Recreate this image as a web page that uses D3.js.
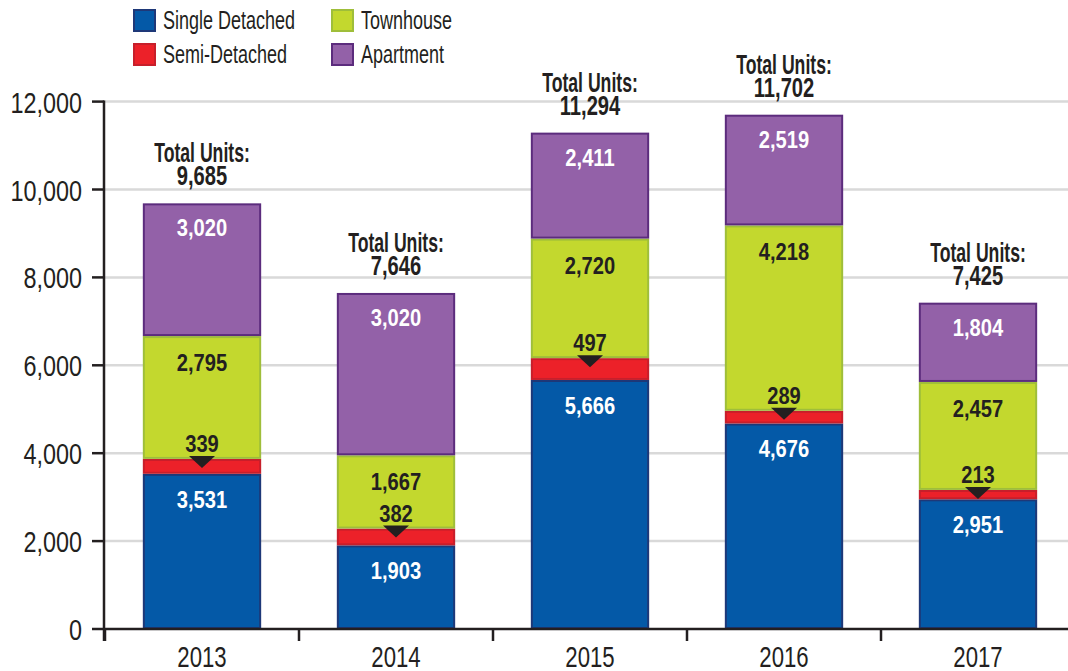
<!DOCTYPE html>
<html>
<head>
<meta charset="utf-8">
<script src="https://cdn.jsdelivr.net/npm/d3@7"></script>
<style>
  body { margin: 0; background: #fff; }
  svg text { font-family: "Liberation Sans", Arial, sans-serif; fill: #231f20; }
</style>
</head>
<body>
<div id="plot"></div>
<script>
// data
const years = ["2013", "2014", "2015", "2016", "2017"];
const singleDetached = [3531, 1903, 5666, 4676, 2951];
const semiDetached = [339, 382, 497, 289, 213];
const townhouse = [2795, 1667, 2720, 4218, 2457];
const apartment = [3020, 3694, 2411, 2519, 1804];
// the printed apartment label for 2014 does not match its bar
const apartmentLabels = ["3,020", "3,020", "2,411", "2,519", "1,804"];
const totals = [9685, 7646, 11294, 11702, 7425];
const yTicks = [0, 2000, 4000, 6000, 8000, 10000, 12000];

const keys = ["single", "semi", "town", "apt"];
const names = { single: "Single Detached", semi: "Semi-Detached", town: "Townhouse", apt: "Apartment" };
const fills = { single: "#0459a7", semi: "#ec2129", town: "#c3d82e", apt: "#9361a8" };
const strokes = { single: "#1e3878", semi: "#c71f2b", town: "#9fbe3a", apt: "#5c2c7d" };

const rows = years.map((y, i) => ({
  year: y, single: singleDetached[i], semi: semiDetached[i],
  town: townhouse[i], apt: apartment[i], total: totals[i], aptLabel: apartmentLabels[i]
}));

const width = 1068, height = 671;
const svg = d3.select("#plot").append("svg")
  .attr("width", width).attr("height", height);

const x = d3.scaleBand().domain(years).range([105, 1075])
  .paddingInner(0.39).paddingOuter(0.195);
const y = d3.scaleLinear().domain([0, 12000]).range([629, 101.6]);
const fmt = d3.format(",");

// narrow text: no condensed face installed, so squeeze horizontally
const at = (px, py, s) => `translate(${px},${py}) scale(${s},1)`;

// grid
svg.append("g").selectAll("line").data(yTicks.slice(1)).enter().append("line")
  .attr("x1", 104).attr("x2", width)
  .attr("y1", d => y(d)).attr("y2", d => y(d))
  .attr("stroke", "#d9d9d9").attr("stroke-width", 2.5);

// bars
const series = d3.stack().keys(keys)(rows);
const layer = svg.selectAll(".serie").data(series).enter().append("g")
  .attr("class", "serie");
layer.selectAll("rect").data(d => d.map(v => Object.assign(v, { key: d.key })))
  .enter().append("rect")
  .attr("x", d => x(d.data.year) + 1)
  .attr("y", d => y(d[1]) + 1)
  .attr("width", x.bandwidth() - 2)
  .attr("height", d => y(d[0]) - y(d[1]) - 2)
  .attr("fill", d => fills[d.key])
  .attr("stroke", d => strokes[d.key])
  .attr("stroke-width", 2);

// y axis
svg.append("g").selectAll("line").data(yTicks).enter().append("line")
  .attr("x1", 92).attr("x2", 104)
  .attr("y1", d => y(d)).attr("y2", d => y(d))
  .attr("stroke", "#231f20").attr("stroke-width", 2.5);
svg.append("g").selectAll("text").data(yTicks).enter().append("text")
  .attr("transform", d => at(82, y(d) + 11, 0.78))
  .attr("text-anchor", "end").style("font-size", "30px")
  .text(fmt);
svg.append("line").attr("x1", 104).attr("x2", 104).attr("y1", y(12000) - 1).attr("y2", 641)
  .attr("stroke", "#231f20").attr("stroke-width", 2.5);

// x axis
svg.append("line").attr("x1", 104).attr("x2", width).attr("y1", 629).attr("y2", 629)
  .attr("stroke", "#231f20").attr("stroke-width", 2.5);
const step = x.step();
svg.append("g").selectAll("line").data(years).enter().append("line")
  .attr("x1", d => x(d) - (step - x.bandwidth()) / 2)
  .attr("x2", d => x(d) - (step - x.bandwidth()) / 2)
  .attr("y1", 629).attr("y2", 641)
  .attr("stroke", "#231f20").attr("stroke-width", 2.5);
svg.append("g").selectAll("text").data(years).enter().append("text")
  .attr("transform", d => at(x(d) + x.bandwidth() / 2, 667, 0.74))
  .attr("text-anchor", "middle").style("font-size", "30px")
  .text(d => d);

// segment labels
const cx = d => x(d.year) + x.bandwidth() / 2;
const lab = svg.append("g").style("font-weight", "bold").style("font-size", "24px")
  .attr("text-anchor", "middle");
const ls = 0.84;

lab.selectAll(".lsingle").data(rows).enter().append("text")
  .attr("transform", d => at(cx(d), y(d.single) + 34, ls))
  .style("fill", "#fff").text(d => fmt(d.single));
lab.selectAll(".ltown").data(rows).enter().append("text")
  .attr("transform", d => at(cx(d), y(d.single + d.semi + d.town) + 35, ls))
  .text(d => fmt(d.town));
lab.selectAll(".lapt").data(rows).enter().append("text")
  .attr("transform", d => at(cx(d), y(d.total) + 33, ls))
  .style("fill", "#fff").text(d => d.aptLabel);
lab.selectAll(".lsemi").data(rows).enter().append("text")
  .attr("transform", d => at(cx(d), y(d.single + d.semi) - 7, ls))
  .text(d => fmt(d.semi));
svg.append("g").selectAll("path").data(rows).enter().append("path")
  .attr("d", d => {
    const c = cx(d), t = y(d.single + d.semi) - 3;
    return `M${c - 13},${t}L${c + 13},${t}L${c},${t + 12}Z`;
  })
  .attr("fill", "#231f20");

// totals
const tot = svg.append("g").style("font-weight", "bold").style("font-size", "28px")
  .attr("text-anchor", "middle");
tot.selectAll(".t1").data(rows).enter().append("text")
  .attr("transform", d => at(cx(d), y(d.total) - 41, 0.63)).text("Total Units:");
tot.selectAll(".t2").data(rows).enter().append("text")
  .attr("transform", d => at(cx(d), y(d.total) - 18, 0.72)).text(d => fmt(d.total));

// legend
const legendPos = [[133, 9], [133, 43], [331, 9], [331, 43]];
const legendKeys = ["single", "semi", "town", "apt"];
const leg = svg.append("g").selectAll("g").data(legendKeys).enter().append("g")
  .attr("transform", (d, i) => `translate(${legendPos[i][0]},${legendPos[i][1]})`);
leg.append("rect").attr("x", 1).attr("y", 1).attr("width", 21).attr("height", 21)
  .attr("fill", d => fills[d]).attr("stroke", d => strokes[d]).attr("stroke-width", 2);
leg.append("text").attr("transform", at(30, 20, 0.72)).style("font-size", "25px")
  .text(d => names[d]);
</script>
</body>
</html>
